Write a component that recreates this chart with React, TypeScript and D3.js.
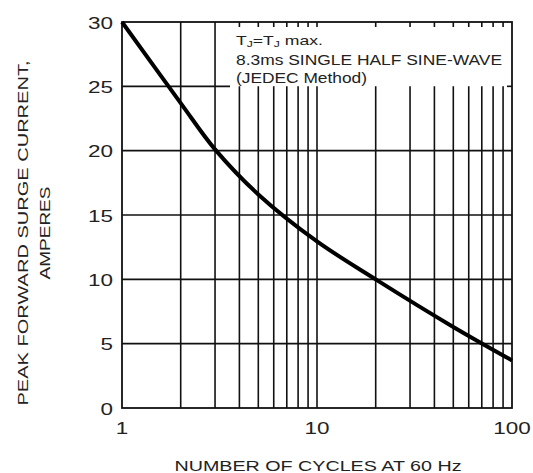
import React, { useEffect } from "react";
import * as d3 from "d3";

const cycles = [1, 2, 3, 5, 10, 20, 50, 100];
const amperes = [30, 23.7, 20.1, 16.6, 12.95, 10.0, 6.3, 3.7];
const xTicks = [1, 10, 100];
const yTicks = [0, 5, 10, 15, 20, 25, 30];
const xGrid = [2, 3, 4, 5, 6, 7, 8, 9, 10, 20, 30, 40, 50, 60, 70, 80, 90];
const yGrid = [5, 10, 15, 20];
const legendLines = ["8.3ms SINGLE HALF SINE-WAVE", "(JEDEC Method)"];
const xTitle = "NUMBER OF CYCLES AT 60 Hz";
const yTitle1 = "PEAK FORWARD SURGE CURRENT,";
const yTitle2 = "AMPERES";

const W = 533, H = 473;
const L = 122, R = 512, T = 22, B = 408;

export default function App() {
  useEffect(() => {
    document.body.style.margin = "0";
  }, []);
  const x = d3.scaleLog().domain([1, 100]).range([L, R]);
  const y = d3.scaleLinear().domain([0, 30]).range([B, T]);
  const line = d3
    .line<number>()
    .x((_, i) => x(cycles[i]))
    .y((d) => y(d))
    .curve(d3.curveCatmullRom.alpha(0.5));
  const boxLeft = 230;
  const y25 = y(25);
  const gc = "#111";
  const gw = 1.6;
  const font = "'Liberation Sans', Arial, sans-serif";
  const tc = "#222";
  return (
    <svg width={W} height={H} style={{ position: "absolute", left: 0, top: 0 }} fontFamily={font}>
      <rect x={0} y={0} width={W} height={H} fill="#fff" />
      {yGrid.map((v) => (
        <line key={"h" + v} x1={L} x2={R} y1={y(v)} y2={y(v)} stroke={gc} strokeWidth={gw} />
      ))}
      <line x1={L} x2={boxLeft} y1={y25} y2={y25} stroke={gc} strokeWidth={gw} />
      <line x1={R - 5} x2={R} y1={y25} y2={y25} stroke={gc} strokeWidth={gw} />
      {xGrid.map((v) => {
        const px = x(v);
        const full = px < boxLeft;
        return (
          <g key={"v" + v}>
            <line x1={px} x2={px} y1={full ? T : y25} y2={B} stroke={gc} strokeWidth={gw} />
            {!full && <line x1={px} x2={px} y1={T} y2={T + 5} stroke={gc} strokeWidth={gw} />}
          </g>
        );
      })}
      <rect x={L} y={T} width={R - L} height={B - T} fill="none" stroke={gc} strokeWidth={1.8} />
      <path d={line(amperes) || ""} fill="none" stroke="#000" strokeWidth={4} strokeLinejoin="round" />
      {yTicks.map((v) => (
        <text
          key={"yl" + v}
          x={113}
          y={y(v) + 6.5}
          textAnchor="end"
          fontSize={17}
          fill={tc}
          textLength={v >= 10 ? 25 : 12.5}
          lengthAdjust="spacingAndGlyphs"
        >
          {v}
        </text>
      ))}
      {xTicks.map((v) => (
        <text
          key={"xl" + v}
          x={x(v)}
          y={434}
          textAnchor="middle"
          fontSize={17}
          fill={tc}
          textLength={String(v).length * 12.5}
          lengthAdjust="spacingAndGlyphs"
        >
          {v}
        </text>
      ))}
      <text x={236} y={45} fontSize={13} fill={tc} textLength={87} lengthAdjust="spacingAndGlyphs">
        T<tspan fontSize={9} dy={2}>J</tspan>
        <tspan dy={-2}>=T</tspan>
        <tspan fontSize={9} dy={2}>J</tspan>
        <tspan dy={-2}> max.</tspan>
      </text>
      <text x={236} y={65} fontSize={14} fill={tc} textLength={266} lengthAdjust="spacingAndGlyphs">
        {legendLines[0]}
      </text>
      <text x={236} y={83} fontSize={14} fill={tc} textLength={131} lengthAdjust="spacingAndGlyphs">
        {legendLines[1]}
      </text>
      <text x={318} y={471} textAnchor="middle" fontSize={15} fill={tc} textLength={287} lengthAdjust="spacingAndGlyphs">
        {xTitle}
      </text>
      <g transform="translate(28,233) rotate(-90)">
        <text x={0} y={0} textAnchor="middle" fontSize={15} fill={tc} textLength={345} lengthAdjust="spacingAndGlyphs">
          {yTitle1}
        </text>
        <text x={0} y={22} textAnchor="middle" fontSize={15} fill={tc} textLength={93} lengthAdjust="spacingAndGlyphs">
          {yTitle2}
        </text>
      </g>
    </svg>
  );
}
